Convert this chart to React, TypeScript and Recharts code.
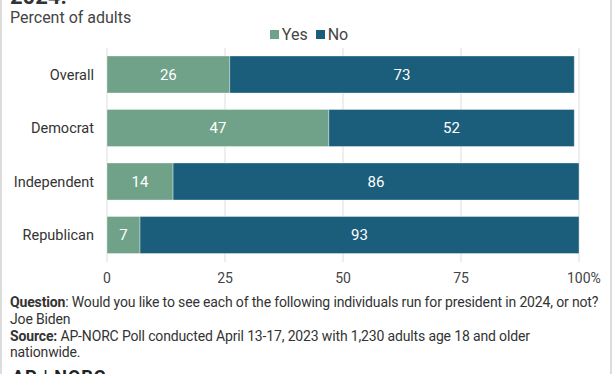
import React from 'react';
import {
  BarChart,
  Bar,
  XAxis,
  YAxis,
  CartesianGrid,
  LabelList,
} from 'recharts';

const groups = ['Overall', 'Democrat', 'Independent', 'Republican'];
const yesValues = [26, 47, 14, 7];
const noValues = [73, 52, 86, 93];
const xTicks = [0, 25, 50, 75, 100];

const YES_COLOR = '#6fa288';
const NO_COLOR = '#1a5e7b';
const FONT = 'Roboto, "Noto Sans", sans-serif';

const chartData = groups.map((g, i) => ({
  group: g,
  Yes: yesValues[i],
  No: noValues[i],
}));

// "100%" sits with the number centred on the gridline and the % trailing
function XTick(props: any) {
  const { x, y, payload } = props;
  const v = payload.value;
  if (v === 100) {
    return (
      <text x={x - 12} y={y} dy="0.71em" textAnchor="start" fill="#444" fontSize={14} fontFamily={FONT}>
        100%
      </text>
    );
  }
  return (
    <text x={x} y={y} dy="0.71em" textAnchor="middle" fill="#444" fontSize={14} fontFamily={FONT}>
      {v}
    </text>
  );
}

function LegendItem({ color, label }: { color: string; label: string }) {
  return (
    <span style={{ display: 'inline-flex', alignItems: 'center', marginRight: 8 }}>
      <span style={{ width: 9, height: 9, background: color, display: 'inline-block', marginRight: 3 }} />
      <span>{label}</span>
    </span>
  );
}

export default function App() {
  return (
    <div
      style={{
        position: 'fixed',
        top: 0,
        left: 0,
        width: 612,
        height: 374,
        overflow: 'hidden',
        background: '#fff',
        fontFamily: FONT,
        boxSizing: 'border-box',
        borderLeft: '2px solid #dcdcdc',
        borderRight: '2px solid #dcdcdc',
      }}
    >
      <div style={{ position: 'absolute', left: 8, top: -16, fontSize: 22, fontWeight: 700, color: '#333' }}>
        2024.
      </div>
      <div style={{ position: 'absolute', left: 8, top: 8, fontSize: 16, color: '#444' }}>
        Percent of adults
      </div>
      <div
        style={{
          position: 'absolute',
          left: 0,
          top: 24,
          width: 608,
          textAlign: 'center',
          fontSize: 16,
          color: '#444',
          paddingLeft: 14,
          boxSizing: 'border-box',
        }}
      >
        <LegendItem color={YES_COLOR} label="Yes" />
        <LegendItem color={NO_COLOR} label="No" />
      </div>
      <div style={{ position: 'absolute', left: 0, top: 0 }}>
        <BarChart
          width={608}
          height={290}
          data={chartData}
          layout="vertical"
          margin={{ top: 48, right: 31, left: 0, bottom: 0 }}
          barSize={37}
        >
          <CartesianGrid horizontal={false} stroke="#dddddd" />
          <XAxis
            type="number"
            domain={[0, 100]}
            ticks={xTicks}
            axisLine={false}
            tickLine={false}
            tickSize={0}
            tickMargin={11}
            tick={<XTick />}
            height={28}
          />
          <YAxis
            type="category"
            dataKey="group"
            width={105}
            axisLine={false}
            tickLine={false}
            tickSize={0}
            tickMargin={13}
            tick={{ fill: '#333', fontSize: 14.5, fontFamily: FONT }}
          />
          <Bar dataKey="Yes" stackId="a" fill={YES_COLOR} stroke="rgba(255,255,255,0.35)" isAnimationActive={false}>
            <LabelList dataKey="Yes" position="center" fill="#fff" fontSize={15} fontFamily={FONT} />
          </Bar>
          <Bar dataKey="No" stackId="a" fill={NO_COLOR} stroke="rgba(255,255,255,0.35)" isAnimationActive={false}>
            <LabelList dataKey="No" position="center" fill="#fff" fontSize={15} fontFamily={FONT} />
          </Bar>
        </BarChart>
      </div>
      <div
        style={{
          position: 'absolute',
          left: 8,
          top: 294,
          width: 602,
          fontSize: 14,
          letterSpacing: -0.15,
          lineHeight: '16.8px',
          color: '#333',
          whiteSpace: 'nowrap',
        }}
      >
        <div>
          <b>Question</b>: Would you like to see each of the following individuals run for president in 2024, or not?
        </div>
        <div>Joe Biden</div>
        <div>
          <b>Source:</b> AP-NORC Poll conducted April 13-17, 2023 with 1,230 adults age 18 and older
        </div>
        <div>nationwide.</div>
      </div>
      <div style={{ position: 'absolute', left: 10, top: 368, fontSize: 18, fontWeight: 700, color: '#222', letterSpacing: 1, lineHeight: '18px' }}>
        AP | NORC
      </div>
    </div>
  );
}
